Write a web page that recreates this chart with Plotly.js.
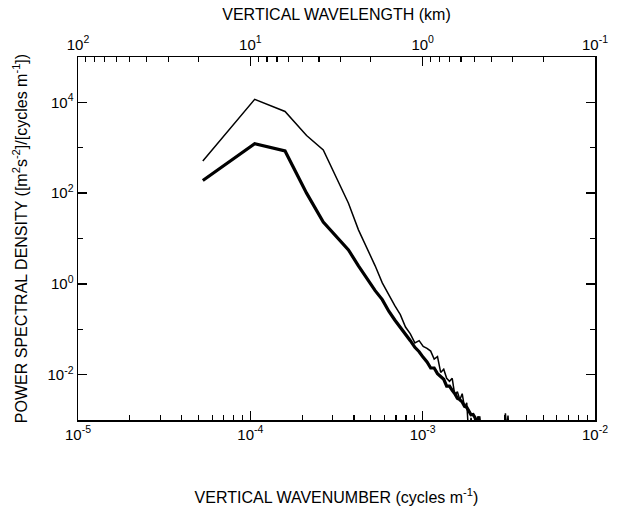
<!DOCTYPE html>
<html>
<head>
<meta charset="utf-8">
<script src="https://cdn.plot.ly/plotly-3.0.1.min.js"></script>
<style>
html,body{margin:0;padding:0;background:#fff;}
#chart{width:619px;height:531px;}
</style>
</head>
<body>
<div id="chart"></div>
<script>
// Vertical wavenumber (cycles m^-1)
const wavenumber = [5.3e-5, 1.06e-4, 1.59e-4, 2.12e-4, 2.65e-4, 3.18e-4, 3.71e-4, 4.24e-4, 4.77e-4, 5.30e-4,
  5.83e-4, 6.36e-4, 6.89e-4, 7.42e-4, 7.95e-4, 8.48e-4, 9.01e-4, 9.54e-4, 1.007e-3, 1.060e-3,
  1.113e-3, 1.166e-3, 1.219e-3, 1.272e-3, 1.325e-3, 1.378e-3, 1.431e-3, 1.484e-3, 1.537e-3, 1.590e-3,
  1.643e-3, 1.696e-3, 1.749e-3, 1.802e-3, 1.855e-3, 1.908e-3, 1.961e-3, 2.014e-3, 2.067e-3, 2.120e-3,
  2.173e-3, 2.915e-3, 2.968e-3, 3.021e-3, 3.074e-3, 3.127e-3, 3.180e-3];

// Thin curve PSD
const psdThin = [5.1e2, 1.17e4, 6.3e3, 1.86e3, 8.9e2, 2.0e2, 6.0e1, 1.55e1, 6.0, 2.5,
  1.05, 0.56, 0.33, 0.21, 0.112, 0.079, 0.050, 0.056, 0.042, 0.038,
  0.033, 0.022, 0.025, 0.0112, 0.0132, 0.0083, 0.0071, 0.0083, 0.0035, 0.0042,
  0.0028, 0.0038, 0.0019, 0.0024, 0.0004, 0.00112, 0.0005, 0.0006, 0.0004, 0.0005,
  0.0003, 0.0004, 0.0005, 0.0014, 0.0006, 0.00125, 0.0005];

// Thick curve PSD
const psdThick = [1.9e2, 1.23e3, 8.5e2, 1.0e2, 2.3e1, 1.1e1, 5.6, 2.5, 1.26, 0.71,
  0.45, 0.25, 0.16, 0.112, 0.076, 0.056, 0.040, 0.032, 0.024, 0.019,
  0.014, 0.014, 0.0105, 0.0089, 0.0079, 0.0056, 0.0056, 0.0045, 0.0038, 0.0030,
  0.0028, 0.0025, 0.0020, 0.0019, 0.0015, 0.0013, 0.00132, 0.00112, 0.00079, 0.0012,
  0.0005, 0.0004, 0.0003, 0.0005, 0.0004, 0.0003, 0.0003];

const xTickVals = [1e-5, 1e-4, 1e-3, 1e-2];
const xTickText = ['10<sup>-5</sup>', '10<sup>-4</sup>', '10<sup>-3</sup>', '10<sup>-2</sup>'];
const yTickVals = [1e-2, 1, 1e2, 1e4];
const yTickText = ['10<sup>-2</sup>', '10<sup>0</sup>', '10<sup>2</sup>', '10<sup>4</sup>'];
const topTickVals = [100, 10, 1, 0.1];
const topTickText = ['10<sup>2</sup>', '10<sup>1</sup>', '10<sup>0</sup>', '10<sup>-1</sup>'];

function minorLog(decStart, decEnd) {
  const out = [];
  for (let d = decStart; d < decEnd; d++) {
    for (let m = 2; m <= 9; m++) out.push(m * Math.pow(10, d));
  }
  return out;
}

const fam = 'Liberation Sans, Arial, sans-serif';
const tickFont = {family: fam, size: 15, color: '#000'};
const titleFont = {family: fam, size: 16, color: '#000'};

const traces = [
  {x: wavenumber, y: psdThin, type: 'scatter', mode: 'lines',
   line: {color: '#000', width: 1.5}, hoverinfo: 'skip', showlegend: false},
  {x: wavenumber, y: psdThick, type: 'scatter', mode: 'lines',
   line: {color: '#000', width: 3.2}, hoverinfo: 'skip', showlegend: false},
  {x: [100, 0.1], y: [1, 1], xaxis: 'x2', yaxis: 'y', type: 'scatter', mode: 'lines',
   line: {color: 'rgba(0,0,0,0)', width: 0}, hoverinfo: 'skip', showlegend: false}
];

const axisCommon = {
  type: 'log', showgrid: false, zeroline: false, showline: true,
  linecolor: '#000', linewidth: 1.5, ticks: 'inside', ticklen: 9, tickwidth: 1.5,
  tickcolor: '#000', tickmode: 'array', tickfont: tickFont
};

const layout = {
  width: 619, height: 531,
  margin: {l: 78, r: 24, t: 57, b: 111},
  paper_bgcolor: '#fff', plot_bgcolor: '#fff',
  font: tickFont,
  showlegend: false,
  xaxis: Object.assign({}, axisCommon, {
    range: [-5, -2], tickvals: xTickVals, ticktext: xTickText,
    minor: {tickmode: 'array', tickvals: minorLog(-5, -2), ticks: 'inside', ticklen: 5, tickwidth: 1.2, tickcolor: '#000', showgrid: false},
    title: {text: 'VERTICAL WAVENUMBER (cycles m<sup>-1</sup>)', font: titleFont, standoff: 50},
    automargin: false
  }),
  xaxis2: Object.assign({}, axisCommon, {
    overlaying: 'x', side: 'top', anchor: 'y',
    range: [2, -1], tickvals: topTickVals, ticktext: topTickText,
    minor: {tickmode: 'array', tickvals: minorLog(-1, 2), ticks: 'inside', ticklen: 5, tickwidth: 1.2, tickcolor: '#000', showgrid: false},
    title: {text: 'VERTICAL WAVELENGTH (km)', font: titleFont, standoff: 8},
    automargin: false
  }),
  yaxis: Object.assign({}, axisCommon, {
    range: [-3, 5], tickvals: yTickVals, ticktext: yTickText, mirror: 'ticks',
    minor: {tickmode: 'array', tickvals: [1e-1, 1e1, 1e3], ticks: 'inside', ticklen: 5, tickwidth: 1.2, tickcolor: '#000', showgrid: false},
    title: {text: 'POWER SPECTRAL DENSITY ([m<sup>2</sup>s<sup>-2</sup>]/[cycles m<sup>-1</sup>])', font: titleFont, standoff: 16},
    automargin: false
  })
};

Plotly.newPlot('chart', traces, layout, {staticPlot: true, displayModeBar: false});
</script>
</body>
</html>
